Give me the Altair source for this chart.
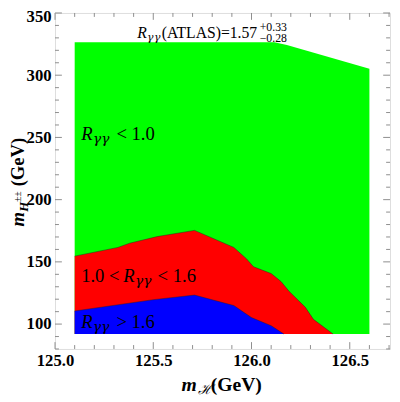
import altair as alt
import pandas as pd

# ---- data (x: m_H in GeV, y: m_H±± in GeV) ----
green_x = [125.10, 126.116, 126.18, 126.60]
green_y = [326.4, 326.4, 324.3, 305.1]
red_x = [125.10, 125.32, 125.38, 125.52, 125.71, 125.91, 125.975, 126.01,
         126.10, 126.15, 126.19, 126.274, 126.315, 126.415]
red_y = [154.6, 161.6, 165.0, 170.3, 175.3, 161.6, 152.4, 146.1,
         140.6, 134.2, 126.5, 113.5, 103.8, 92.0]
blue_x = [125.10, 125.50, 125.71, 125.91, 126.00, 126.10, 126.165]
blue_y = [110.5, 119.6, 123.3, 114.9, 105.2, 98.7, 92.0]
region_base = 92.0

x_major = [125.0, 125.5, 126.0, 126.5]
x_minor = [125.1, 125.2, 125.3, 125.4, 125.6, 125.7, 125.8, 125.9,
           126.1, 126.2, 126.3, 126.4, 126.6, 126.7]
y_major = [100, 150, 200, 250, 300, 350]
y_minor = [80, 90, 110, 120, 130, 140, 160, 170, 180, 190, 210, 220, 230, 240,
           260, 270, 280, 290, 310, 320, 330, 340]

XDOM = [125.0, 126.705]
YDOM = [80, 350]
W, H = 342, 343
FONT = "Liberation Serif"
GFONT = "DejaVu Serif"
FRAME = "#8c8c8c"

xs = alt.Scale(domain=XDOM, nice=False, zero=False)
ys = alt.Scale(domain=YDOM, nice=False, zero=False)


def region(xv, yv, color):
    df = pd.DataFrame({"x": xv, "y": yv, "base": [region_base] * len(xv)})
    return alt.Chart(df).mark_area(color=color, opacity=1, interpolate="linear").encode(
        x=alt.X("x:Q", scale=xs, axis=alt.Axis(values=x_major, format=".1f", title=None,
                                               ticks=False, domain=False, grid=False,
                                               labelFont=FONT, labelFontWeight="bold",
                                               labelFontSize=17, labelColor="black",
                                               labelPadding=4, labelFlush=False,
                                               labelOverlap=False)),
        y=alt.Y("y:Q", scale=ys, axis=alt.Axis(values=y_major, title=None,
                                               ticks=False, domain=False, grid=False,
                                               labelFont=FONT, labelFontWeight="bold",
                                               labelFontSize=17, labelColor="black",
                                               labelPadding=4, labelFlush=False,
                                               labelOverlap=False,
                                               labelOffset={"condition": {"test": "datum.value == 350", "value": 4}, "value": 0})),
        y2=alt.Y2("base:Q"),
    )


def edge(xv, yv):
    df = pd.DataFrame({"x": xv, "y": yv})
    return alt.Chart(df).mark_line(color="#202020", strokeWidth=0.8, opacity=0.55).encode(
        x=alt.X("x:Q", scale=xs), y=alt.Y("y:Q", scale=ys))


def ticks_x(vals, length, top):
    df = pd.DataFrame({"x": vals})
    if top:
        y0, y1 = 0, length
    else:
        y0, y1 = H, H - length
    return alt.Chart(df).mark_rule(color=FRAME, strokeWidth=1).encode(
        x=alt.X("x:Q", scale=xs), y=alt.value(y0), y2=alt.value(y1))


def ticks_y(vals, length, right):
    df = pd.DataFrame({"y": vals})
    if right:
        x0, x1 = W, W - length
    else:
        x0, x1 = 0, length
    return alt.Chart(df).mark_rule(color=FRAME, strokeWidth=1).encode(
        y=alt.Y("y:Q", scale=ys), x=alt.value(x0), x2=alt.value(x1))


def piece(x, y, text, dx=0, dy=0, size=17, italic=False, bold=False, font=FONT):
    df = pd.DataFrame({"x": [x], "y": [y], "t": [text]})
    return alt.Chart(df).mark_text(
        font=font, fontSize=size, fontStyle="italic" if italic else "normal",
        fontWeight="bold" if bold else "normal", align="left", baseline="alphabetic",
        dx=dx, dy=dy, color="black").encode(
        x=alt.X("x:Q", scale=xs), y=alt.Y("y:Q", scale=ys), text="t:N")


def ptext(px, py, text, size=20, italic=False, bold=True, angle=0, font=FONT):
    df = pd.DataFrame({"t": [text]})
    kw = dict(font=font, fontSize=size, fontStyle="italic" if italic else "normal",
              fontWeight="bold" if bold else "normal", align="left",
              baseline="alphabetic", color="black")
    if angle:
        kw["angle"] = angle
    return alt.Chart(df).mark_text(**kw).encode(
        x=alt.value(px), y=alt.value(py), text="t:N")


# annotation anchors (data coordinates, text baseline)
title_pos = (125.4185, 329.5)
lab1_pos = (125.133, 247.7)
lab2_pos = (125.133, 133.5)
lab3_pos = (125.133, 97.0)

layers = [
    region(green_x, green_y, "#00ff00"),
    region(red_x, red_y, "#ff0000"),
    region(blue_x, blue_y, "#0000ff"),
    edge(red_x, red_y),
    edge(blue_x, blue_y),
    ticks_x(x_major, 7, False), ticks_x(x_minor, 4, False),
    ticks_x(x_major, 7, True), ticks_x(x_minor, 4, True),
    ticks_y(y_major, 7, False), ticks_y(y_minor, 4, False),
    ticks_y(y_major, 7, True), ticks_y(y_minor, 4, True),
]

# header annotation
tx, ty = title_pos
layers += [
    piece(tx, ty, "R", 0, 0, 16, italic=True),
    piece(tx, ty, "γ", 10, 3, 11, italic=True, font=GFONT),
    piece(tx, ty, "γ", 17, 3, 11, italic=True, font=GFONT),
    piece(tx, ty, "(ATLAS)=1.57", 25, 0, 16),
    piece(tx, ty, "+0.33", 125, -8, 12),
    piece(tx, ty, "−0.28", 125, 4, 12),
]

# region labels
for (lx, ly), rel in [(lab1_pos, "< 1.0"), (lab3_pos, "> 1.6")]:
    layers += [
        piece(lx, ly, "R", 0, 0, 19, italic=True),
        piece(lx, ly, "γ", 12, 3, 14, italic=True, font=GFONT),
        piece(lx, ly, "γ", 20.5, 3, 14, italic=True, font=GFONT),
        piece(lx, ly, rel, 36, 0, 19),
    ]
lx, ly = lab2_pos
layers += [
    piece(lx, ly, "1.0 <", 0, 0, 19),
    piece(lx, ly, "R", 43, 0, 19, italic=True),
    piece(lx, ly, "γ", 55, 3, 14, italic=True, font=GFONT),
    piece(lx, ly, "γ", 63.5, 3, 14, italic=True, font=GFONT),
    piece(lx, ly, "< 1.6", 78, 0, 19),
]

# axis titles (pixel positions relative to the plot area)
layers += [
    ptext(129, 386, "m", 20, italic=True),
    ptext(146, 389, "ℋ", 14, italic=True, bold=False, font="DejaVu Serif"),
    ptext(159, 386, "(GeV)", 20),
    ptext(-32, 218, "m", 19, italic=True, angle=270),
    ptext(-28, 203, "H", 13, italic=True, angle=270),
    ptext(-35, 193, "±±", 10, bold=False, angle=270),
    ptext(-32, 177, "(GeV)", 19, angle=270),
]

chart = alt.layer(*layers).properties(
    width=W, height=H,
    autosize=alt.AutoSizeParams(type="none"),
    padding={"left": 48, "top": 1, "right": 2, "bottom": 48},
).configure_view(stroke=FRAME, strokeWidth=1).configure(background="white")

chart.save("out.html", embed_options={"renderer": "svg", "actions": False})
